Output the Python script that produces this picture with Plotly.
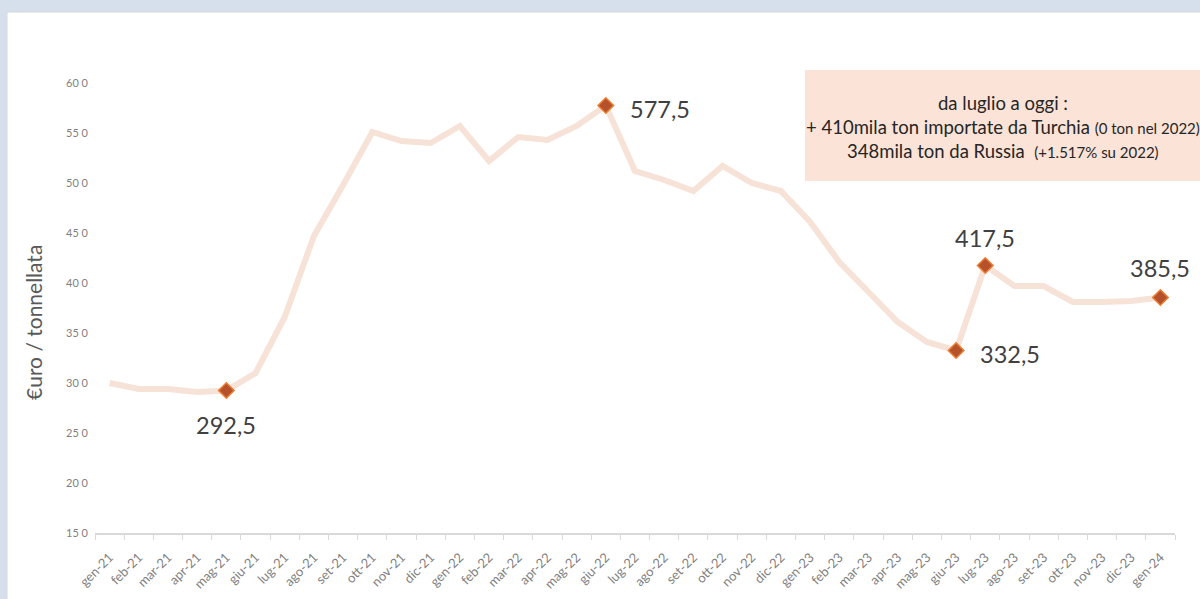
import plotly.graph_objects as go

months = ["gen-21","feb-21","mar-21","apr-21","mag-21","giu-21","lug-21","ago-21","set-21","ott-21","nov-21","dic-21",
          "gen-22","feb-22","mar-22","apr-22","mag-22","giu-22","lug-22","ago-22","set-22","ott-22","nov-22","dic-22",
          "gen-23","feb-23","mar-23","apr-23","mag-23","giu-23","lug-23","ago-23","set-23","ott-23","nov-23","dic-23",
          "gen-24"]
prices = [300, 294, 294, 291, 292.5, 310, 366, 447, 498, 551, 542, 540,
          557, 522, 546, 543, 557, 577.5, 512, 503, 492, 517, 500, 492,
          461, 421, 391, 361, 341, 332.5, 417.5, 397, 397, 381, 381, 382,
          385.5]
highlight_idx = [4, 17, 29, 30, 36]
ytick_vals = [150, 200, 250, 300, 350, 400, 450, 500, 550, 600]
ytick_text = ["15 0", "20 0", "25 0", "30 0", "35 0", "40 0", "45 0", "50 0", "55 0", "60 0"]
note_lines = [
    "da luglio a oggi :",
    "+ 410mila ton importate da Turchia <span style='font-size:15px'>(0 ton nel 2022)</span>",
    "348mila ton da Russia  <span style='font-size:15px'>(+1.517% su 2022)</span>",
]

fig = go.Figure()
fig.add_trace(go.Scatter(
    x=months, y=prices, mode="lines",
    line=dict(color="#f7e2d8", width=6),
    hoverinfo="skip", showlegend=False,
))
fig.add_trace(go.Scatter(
    x=[months[i] for i in highlight_idx], y=[prices[i] for i in highlight_idx],
    mode="markers",
    marker=dict(symbol="diamond", size=12, color="#b5522c", line=dict(color="#ed7d31", width=1.5)),
    showlegend=False,
))

# label placement (xshift, yshift, xanchor)
label_pos = {4: (0, -34, "center"), 17: (22, -3, "left"), 29: (22, -3, "left"),
             30: (0, 28, "center"), 36: (0, 30, "center")}
for i in highlight_idx:
    xs, ys, xa = label_pos[i]
    txt = ("%.1f" % prices[i]).replace(".", ",")
    fig.add_annotation(x=months[i], y=prices[i], text=txt, showarrow=False,
                       xshift=xs, yshift=ys, xanchor=xa, yanchor="middle",
                       font=dict(family="Lato", size=23.5, color="#404040"))

L, R, T, B = 95, 25, 83, 66
W, H = 1200, 599
pw, ph = W - L - R, H - T - B

def px_x(p):
    return (p - L) / pw

def px_y(p):
    return (H - B - p) / ph

shapes = [
    dict(type="rect", xref="paper", yref="paper", layer="below",
         x0=px_x(7), x1=px_x(1215), y0=px_y(615), y1=px_y(12),
         fillcolor="white", line=dict(color="#d4d8dc", width=1)),
    dict(type="rect", xref="paper", yref="paper", layer="below",
         x0=px_x(805), x1=px_x(1215), y0=px_y(181), y1=px_y(70),
         fillcolor="#fbe3d7", line=dict(width=0)),
]

for k, (line, ypix) in enumerate(zip(note_lines, [103, 127, 151])):
    fig.add_annotation(xref="paper", yref="paper", x=px_x(1003), y=px_y(ypix),
                       text=line, showarrow=False, xanchor="center", yanchor="middle",
                       font=dict(family="Lato", size=18.5, color="#262626"))

fig.add_annotation(xref="paper", yref="paper", x=px_x(33), y=px_y(323),
                   text="€uro / tonnellata", textangle=-90, showarrow=False,
                   xanchor="center", yanchor="middle",
                   font=dict(family="Lato", size=21, color="#595959"))

fig.update_layout(
    width=W, height=H,
    margin=dict(l=L, r=R, t=T, b=B),
    paper_bgcolor="#d6e0ec",
    plot_bgcolor="white",
    shapes=shapes,
    xaxis=dict(type="category", tickangle=-45, showgrid=False, automargin=False,
               showline=True, linecolor="#d9d9d9", linewidth=1.5,
               ticks="outside", tickson="boundaries", ticklen=5, tickcolor="#d9d9d9",
               tickfont=dict(family="Lato", size=13, color="#7f7f7f"),
               ticklabelstandoff=10,
               range=[-0.5, len(months) - 0.5], fixedrange=True),
    yaxis=dict(range=[150, 600], tickvals=ytick_vals, ticktext=ytick_text,
               showgrid=False, zeroline=False, showline=False, automargin=False,
               tickfont=dict(family="Lato", size=11, color="#7f7f7f"),
               ticklabelstandoff=6, fixedrange=True),
)

fig.write_html("out.html", config={"displayModeBar": False},
               post_script="document.body.style.margin='0';document.body.style.overflow='hidden';")
